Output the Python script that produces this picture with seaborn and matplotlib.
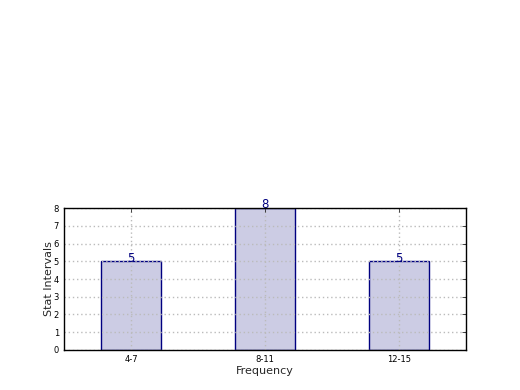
import matplotlib
matplotlib.use("Agg")
import matplotlib.pyplot as plt
import seaborn as sns
import pandas as pd

categories = ["4-7", "8-11", "12-15"]
values = [5, 8, 5]

sns.set_style("white")
plt.rcParams['font.family'] = ['DejaVu Sans']

df = pd.DataFrame({"cat": categories, "val": values})

fig = plt.figure(figsize=(5.2, 3.9), dpi=100)
ax = fig.add_axes([0.123, 0.1026, 0.773, 0.364])
sns.barplot(data=df, x="cat", y="val", ax=ax, color="#ccccE4", saturation=1,
            edgecolor="#000080", linewidth=1.0, width=0.45, errorbar=None, zorder=1)
for p in ax.patches:
    p.set_edgecolor("#000080")
for i, v in enumerate(values):
    ax.annotate(str(v), (i, v), xytext=(0, -2.5), textcoords="offset points",
                ha="center", va="bottom", color="#000080", fontsize=8.5)
ax.set_xlim(-0.5, 2.5)
ax.set_ylim(0, 8)
ax.set_yticks(range(0, 9))
ax.set_axisbelow(False)
ax.grid(True, linestyle=(0, (1, 2)), color="#bbbbbb", linewidth=1.0, zorder=3)
for s in ax.spines.values():
    s.set_visible(True)
    s.set_color("black")
    s.set_linewidth(1.0)
    s.set_zorder(5)
ax.tick_params(direction="in", length=3, labelsize=6, top=True, right=True, width=0.5, colors="black")
ax.set_xlabel("Frequency", fontsize=8, labelpad=1.5)
ax.set_ylabel("Stat Intervals", fontsize=8, labelpad=0)
fig.savefig("out.png", dpi=100)
